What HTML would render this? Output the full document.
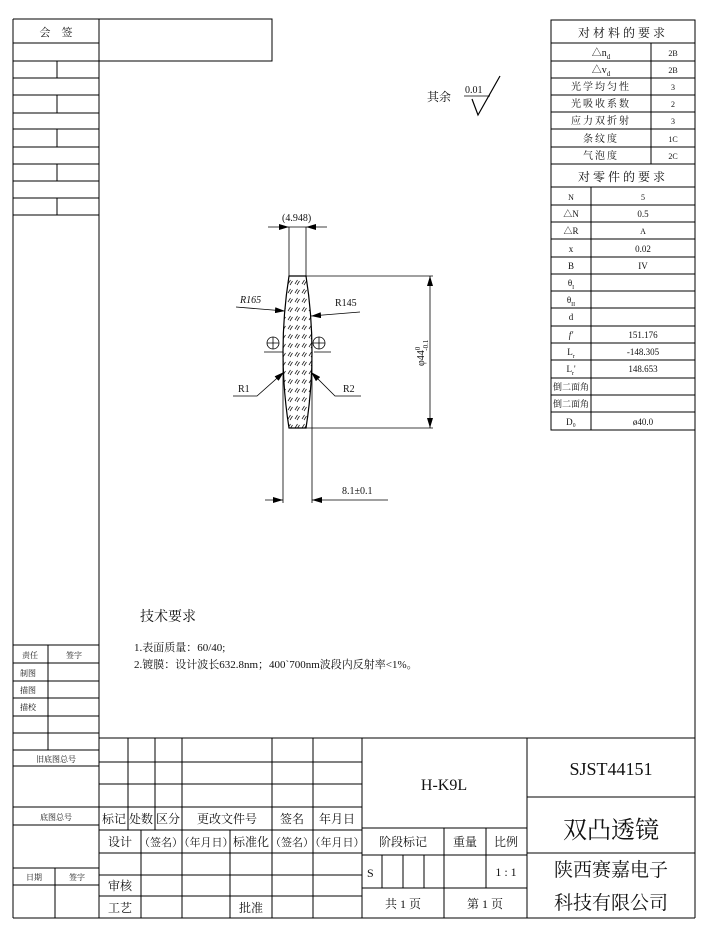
<!DOCTYPE html>
<html><head><meta charset="utf-8"><style>
html,body{margin:0;padding:0;background:#fff;}
svg{display:block;}
text{font-family:"Liberation Serif","Noto Serif CJK SC","Noto Sans CJK SC",serif;fill:#111;}
.s{font-size:10px;}
.m{font-size:12px;}
</style></head><body>
<svg width="708" height="937" viewBox="0 0 708 937" xmlns="http://www.w3.org/2000/svg">
<defs>
<pattern id="h" width="7" height="9" patternUnits="userSpaceOnUse">
<path d="M1 5 L3.5 1 M3 6 L5.5 2" stroke="#222" stroke-width="0.8"/>
</pattern>
<marker id="a" markerWidth="10" markerHeight="6" refX="10" refY="3" orient="auto" markerUnits="userSpaceOnUse"><path d="M0 0 L10 3 L0 6z" fill="#000"/></marker>
</defs>
<g stroke="#000" stroke-width="1" fill="none">
<line x1="13" y1="19" x2="272" y2="19"/>
<line x1="13" y1="19" x2="13" y2="918"/>
<line x1="99" y1="19" x2="99" y2="918"/>
<line x1="695" y1="20" x2="695" y2="918"/>
<line x1="13" y1="918" x2="695" y2="918"/>
<rect x="99" y="19" width="173" height="42"/>
<path d="M13 43H99M13 61H99M13 78H99M13 95H99M13 113H99M13 129H99M13 147H99M13 164H99M13 181H99M13 198H99M13 215H99"/>
<path d="M57 61V78M57 95V113M57 129V147M57 164V181M57 198V215"/>
<path d="M13 645H99M13 663H99M13 681H99M13 698H99M13 716H99M13 733H99M13 750H99M13 766H99M13 807H99M13 825H99M13 868H99M13 885H99"/>
<path d="M48 645V750M55 868V918"/>
<path d="M99 738H695M99 762H362M99 784H362M99 807H362M99 830H362M99 853H362M99 875H362M99 896H362"/>
<path d="M128 738V830M155 738V830M182 738V918M272 738V918M313 738V918M362 738V918M141 830V918M230 830V918"/>
<path d="M527 738V918M362 828H527M362 855H527M362 888H527M527 797H695M527 853H695"/>
<path d="M444 828V918M486 828V888M382 855V888M403 855V888M424 855V888"/>
<rect x="551" y="20" width="144" height="410"/>
<path d="M551 43H695M551 61H695M551 78H695M551 95H695M551 112H695M551 129H695M551 147H695M551 164H695M551 187H695M551 205H695M551 222H695M551 239H695M551 257H695M551 274H695M551 291H695M551 308H695M551 326H695M551 343H695M551 360H695M551 378H695M551 395H695M551 412H695"/>
<path d="M651 43V164M591 187V430"/>
</g>
<g stroke="#000" stroke-width="1.2" fill="none">
<path d="M472 99 L478 115 L500 76"/>
<line x1="464" y1="96" x2="490" y2="96" stroke-width="0.8"/>
</g>
<g stroke="#000" fill="none" stroke-width="1">
<path d="M289 276 Q277 352 289 428 L306 428 Q318 352 306 276 Z" fill="url(#h)" stroke-width="1.2"/>
<line x1="289" y1="227" x2="289" y2="276" stroke-width="0.8"/>
<line x1="306" y1="227" x2="306" y2="276" stroke-width="0.8"/>
<line x1="268" y1="227" x2="289" y2="227" marker-end="url(#a)" stroke-width="0.8"/>
<line x1="327" y1="227" x2="306" y2="227" marker-end="url(#a)" stroke-width="0.8"/>
<line x1="289" y1="227" x2="306" y2="227" stroke-width="0.8"/>
<line x1="306" y1="276" x2="433" y2="276" stroke-width="0.8"/>
<line x1="289" y1="428" x2="433" y2="428" stroke-width="0.8"/>
<line x1="430" y1="352" x2="430" y2="276" marker-end="url(#a)" stroke-width="0.8"/>
<line x1="430" y1="352" x2="430" y2="428" marker-end="url(#a)" stroke-width="0.8"/>
<line x1="283" y1="353" x2="283" y2="503" stroke-width="0.8"/>
<line x1="312" y1="353" x2="312" y2="503" stroke-width="0.8"/>
<line x1="265" y1="500" x2="283" y2="500" marker-end="url(#a)" stroke-width="0.8"/>
<line x1="388" y1="500" x2="312" y2="500" marker-end="url(#a)" stroke-width="0.8"/>
<line x1="236" y1="307" x2="285" y2="311" marker-end="url(#a)" stroke-width="0.8"/>
<line x1="360" y1="312" x2="311" y2="316" marker-end="url(#a)" stroke-width="0.8"/>
<circle cx="273" cy="343" r="6" stroke-width="0.8"/>
<path d="M267 343H279M273 337V349M264 352H283" stroke-width="0.8"/>
<circle cx="319" cy="343" r="6" stroke-width="0.8"/>
<path d="M313 343H325M319 337V349M314 352H331" stroke-width="0.8"/>
<path d="M233 396H257L284 372" stroke-width="0.8" marker-end="url(#a)"/>
<path d="M361 396H335L311 372" stroke-width="0.8" marker-end="url(#a)"/>
</g>
<g class="s">
<text x="282" y="221">(4.948)</text>
<text x="240" y="303" font-style="italic">R165</text>
<text x="335" y="306">R145</text>
<text x="238" y="392">R1</text>
<text x="343" y="392">R2</text>
<text x="342" y="494">8.1±0.1</text>
<text transform="translate(424,366) rotate(-90)">φ44<tspan font-size="7" dy="-4">0</tspan><tspan font-size="7" dx="-4" dy="8">-0.1</tspan></text>
</g>
<text x="427" y="101" class="m">其余</text>
<text x="465" y="93" class="s">0.01</text>
<g class="s" text-anchor="middle">
<text x="56" y="36" font-size="11">会　签</text>
<text x="30" y="658" font-size="8">责任</text><text x="74" y="658" font-size="8">签字</text>
<text x="28" y="676" font-size="8">制图</text>
<text x="28" y="693" font-size="8">描图</text>
<text x="28" y="710" font-size="8">描校</text>
<text x="56" y="762" font-size="8">旧底图总号</text>
<text x="56" y="820" font-size="8">底图总号</text>
<text x="34" y="880" font-size="8">日期</text><text x="77" y="880" font-size="8">签字</text>
</g>
<text x="140" y="621" font-size="14">技术要求</text>
<text x="134" y="651" font-size="11">1.表面质量：60/40;</text>
<text x="134" y="668" font-size="11">2.镀膜：设计波长632.8nm；400`700nm波段内反射率&lt;1%。</text>
<g font-size="12" text-anchor="middle">
<text x="114" y="823">标记</text><text x="141" y="823">处数</text><text x="168" y="823">区分</text>
<text x="227" y="823">更改文件号</text><text x="292" y="823">签名</text><text x="337" y="823">年月日</text>
<text x="120" y="846">设计</text><text x="161" y="846" font-size="11">（签名）</text><text x="206" y="846" font-size="11">（年月日）</text>
<text x="251" y="846">标准化</text><text x="292" y="846" font-size="11">（签名）</text><text x="337" y="846" font-size="11">（年月日）</text>
<text x="120" y="890">审核</text><text x="120" y="912">工艺</text><text x="251" y="912">批准</text>
<text x="403" y="846">阶段标记</text><text x="465" y="846">重量</text><text x="506" y="846">比例</text>
<text x="506" y="876">1 : 1</text>
<text x="403" y="908">共 1 页</text><text x="485" y="908">第 1 页</text>
<text x="444" y="790" font-size="16">H-K9L</text>
<text x="611" y="775" font-size="18">SJST44151</text>
<text x="611" y="838" font-size="24" font-family="Noto Sans CJK SC,sans-serif">双凸透镜</text>
<text x="611" y="876" font-size="19" font-family="Noto Sans CJK SC,sans-serif">陕西赛嘉电子</text>
<text x="611" y="909" font-size="19" font-family="Noto Sans CJK SC,sans-serif">科技有限公司</text>
</g>
<text x="367" y="877" font-size="12">S</text>
<g class="s" text-anchor="middle">
<text x="623" y="37" font-size="12" letter-spacing="3">对材料的要求</text>
<text x="601" y="56">△n<tspan font-size="7" dy="3">d</tspan></text><text x="673" y="56" font-size="8">2B</text>
<text x="601" y="73">△v<tspan font-size="7" dy="3">d</tspan></text><text x="673" y="73" font-size="8">2B</text>
<text x="601" y="90" letter-spacing="2">光学均匀性</text><text x="673" y="90" font-size="8">3</text>
<text x="601" y="107" letter-spacing="2">光吸收系数</text><text x="673" y="107" font-size="8">2</text>
<text x="601" y="124" letter-spacing="2">应力双折射</text><text x="673" y="124" font-size="8">3</text>
<text x="601" y="142" letter-spacing="2">条纹度</text><text x="673" y="142" font-size="8">1C</text>
<text x="601" y="159" letter-spacing="2">气泡度</text><text x="673" y="159" font-size="8">2C</text>
<text x="623" y="181" font-size="12" letter-spacing="3">对零件的要求</text>
<text x="571" y="200" font-size="8">N</text><text x="643" y="200" font-size="8">5</text>
<text x="571" y="217" font-size="9">△N</text><text x="643" y="217" font-size="9">0.5</text>
<text x="571" y="234" font-size="9">△R</text><text x="643" y="234" font-size="8">A</text>
<text x="571" y="252" font-size="9">x</text><text x="643" y="252" font-size="9">0.02</text>
<text x="571" y="269" font-size="9">B</text><text x="643" y="269" font-size="9">IV</text>
<text x="571" y="286" font-size="9">θ<tspan font-size="6" dy="3">I</tspan></text>
<text x="571" y="303" font-size="9">θ<tspan font-size="6" dy="3">II</tspan></text>
<text x="571" y="320" font-size="9">d</text>
<text x="571" y="338" font-size="9" font-style="italic">f'</text><text x="643" y="338" font-size="9">151.176</text>
<text x="571" y="355" font-size="9">L<tspan font-size="6" dy="3">r</tspan></text><text x="643" y="355" font-size="9">-148.305</text>
<text x="571" y="372" font-size="9">L<tspan font-size="6" dy="3">r</tspan><tspan dy="-3">'</tspan></text><text x="643" y="372" font-size="9">148.653</text>
<text x="571" y="390" font-size="9">倒二面角</text>
<text x="571" y="407" font-size="9">倒二面角</text>
<text x="571" y="425" font-size="9">D₀</text><text x="643" y="425" font-size="9">ø40.0</text>
</g>
</svg>
</body></html>
